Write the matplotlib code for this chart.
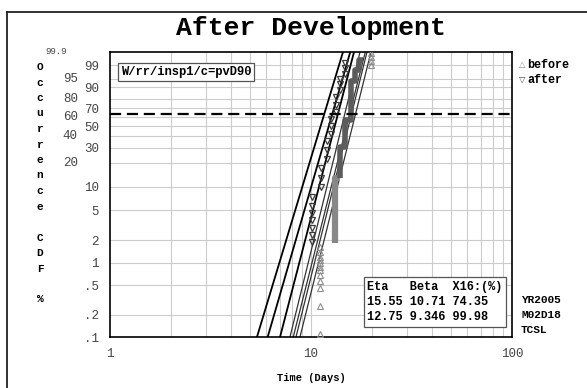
import numpy as np
import matplotlib.pyplot as plt
from matplotlib.lines import Line2D

plt.rcParams['font.family'] = ['Liberation Mono', 'DejaVu Sans']

W, H = 587, 388


def wb(p):
    # percent -> Weibull probability scale, ln(-ln(1-F))
    p = np.asarray(p, dtype=float) / 100.0
    return np.log(-np.log(1.0 - p))


# fitted Weibull lines (eta, beta): fit plus bounds for each group
after_lines = [(11.63, 8.97), (12.75, 9.346), (13.60, 10.43)]
before_lines = [(14.71, 11.02), (15.55, 10.71), (15.90, 10.87), (16.64, 10.87)]

# before data, plotted points
before_t = [11.1] * 12 + [19.8] * 4
before_F = [0.11, 0.26, 0.45, 0.56, 0.68, 0.79, 0.87, 0.98, 1.08, 1.18, 1.38, 1.6,
            99.0, 99.46, 99.73, 99.88]
# before data, stacked inspection steps
step_t = [13.16, 13.94, 14.77, 15.82, 16.55, 17.33, 18.14]
step_F = [1.82, 12.9, 30.4, 56.7, 94.0, 98.1, 99.54]

# after data
after_t = [10.1] * 7 + [11.2] * 3 + [12.0] * 3 + [12.6] * 3 + [13.3] * 3 + [14.0] * 3 + [14.8] * 3
after_F = [1.87, 2.33, 2.88, 3.68, 4.55, 5.6, 7.4,
           10, 13, 17, 22, 28, 35, 42, 50, 58, 66, 74, 82, 88, 92, 95, 97, 98.5, 99.3]

eta_line = 63.2

inner_ticks = [99, 90, 70, 50, 30, 10, 5, 2, 1, .5, .2, .1]
inner_labels = ['99', '90', '70', '50', '30', '10', '5', '2', '1', '.5', '.2', '.1']
outer_ticks = [95, 80, 60, 40, 20]
outer_labels = ['95', '80', '60', '40', '20']
x_ticks = [1, 10, 100]
x_labels = ['1', '10', '100']

stats_rows = ['Eta   Beta  X16:(%)',
              '15.55 10.71 74.35',
              '12.75 9.346 99.98']
side_notes = ['YR2005', 'M02D18', 'TCSL']

fig = plt.figure(figsize=(W / 100, H / 100), dpi=100)
ax = fig.add_axes([110 / W, 1 - 337 / H, 402 / W, 285 / H])

ax.set_xscale('log')
ax.set_xlim(1, 100)
ax.set_ylim(wb(0.1), wb(99.9))

# grid
for v in list(range(2, 10)) + list(range(10, 100, 10)):
    ax.axvline(v, color='#cccccc', lw=0.8, zorder=0)
for p in inner_ticks[:-1] + outer_ticks:
    ax.axhline(wb(p), color='#cccccc', lw=0.8, zorder=0)

tt = np.logspace(0, 2, 500)
for eta, beta in before_lines:
    ax.plot(tt, beta * (np.log(tt) - np.log(eta)), color='#333333', lw=0.9, zorder=2)
for eta, beta in after_lines:
    ax.plot(tt, beta * (np.log(tt) - np.log(eta)), color='black', lw=1.3, zorder=2)

ax.plot(step_t[:2], wb(step_F[:2]), drawstyle='steps-pre', color='#888888', lw=4.5,
        solid_capstyle='butt', zorder=3)
ax.plot(step_t[1:], wb(step_F[1:]), drawstyle='steps-pre', color='#5c5c5c', lw=4,
        solid_capstyle='butt', zorder=3)
ax.plot(before_t, wb(before_F), ls='none', marker='^', ms=4.5, mfc='none',
        mec='#8c8c8c', mew=0.8, zorder=4)
ax.plot(after_t, wb(after_F), ls='none', marker='v', ms=4.5, mfc='none',
        mec='#3a3a3a', mew=0.9, zorder=4)

ax.axhline(wb(eta_line), color='black', lw=1.6, dashes=(5, 2.6), zorder=5)

ax.set_xticks(x_ticks)
ax.set_xticklabels(x_labels)
ax.xaxis.set_minor_locator(plt.NullLocator())
ax.set_yticks(wb(inner_ticks))
ax.set_yticklabels(inner_labels)
ax.tick_params(length=0, labelsize=9, colors='#444444', pad=8)
ax.tick_params(axis='x', pad=8)
for s in ax.spines.values():
    s.set_linewidth(1.2)

for p, lab in zip(outer_ticks, outer_labels):
    ax.text(-0.08, wb(p), lab, transform=ax.get_yaxis_transform(), ha='right',
            va='center', fontsize=9, color='#444444')
ax.text(-0.107, wb(99.9), '99.9', transform=ax.get_yaxis_transform(), ha='right',
        va='center', fontsize=6.5, color='#444444')

ax.text(0.027, 0.95, 'W/rr/insp1/c=pvD90', transform=ax.transAxes, ha='left', va='top',
        fontsize=8.7, fontweight='bold',
        bbox=dict(boxstyle='square,pad=0.25', fc='white', ec='#555555', lw=0.9))

ax.text(0.64, 0.123, '\n'.join(stats_rows), transform=ax.transAxes, ha='left', va='center',
        fontsize=8.6, fontweight='bold', linespacing=1.35,
        bbox=dict(boxstyle='square,pad=0.3', fc='white', ec='#555555', lw=0.9), zorder=6)

fig.text(311 / W, 1 - 28 / H, 'After Development', ha='center', va='center',
         fontsize=19, fontweight='bold')
fig.text(311 / W, 1 - 378 / H, 'Time (Days)', ha='center', va='center',
         fontsize=7.5, fontweight='bold')

for i, ch in enumerate('Occurrence CDF %'):
    fig.text(40 / W, 1 - (67 + 15.5 * i) / H, ch, ha='center', va='center',
             fontsize=8, fontweight='bold')

fig.text(519 / W, 1 - 65 / H, '\u25b3', ha='left', va='center', fontsize=6, color='#888888')
fig.text(527 / W, 1 - 65 / H, 'before', ha='left', va='center', fontsize=8.5, fontweight='bold')
fig.text(519 / W, 1 - 80 / H, '\u25bd', ha='left', va='center', fontsize=6, color='#444444')
fig.text(527 / W, 1 - 80 / H, 'after', ha='left', va='center', fontsize=8.5, fontweight='bold')

for i, s in enumerate(side_notes):
    fig.text(521 / W, 1 - (300 + 15 * i) / H, s, ha='left', va='center',
             fontsize=8, fontweight='bold')

# outer frame
fig.add_artist(Line2D([7 / W, 1], [1 - 12 / H, 1 - 12 / H], transform=fig.transFigure,
                      color='#222222', lw=1.3))
fig.add_artist(Line2D([7 / W, 7 / W], [1 - 12 / H, 0], transform=fig.transFigure,
                      color='#222222', lw=1.3))

fig.savefig('out.png', dpi=100)
